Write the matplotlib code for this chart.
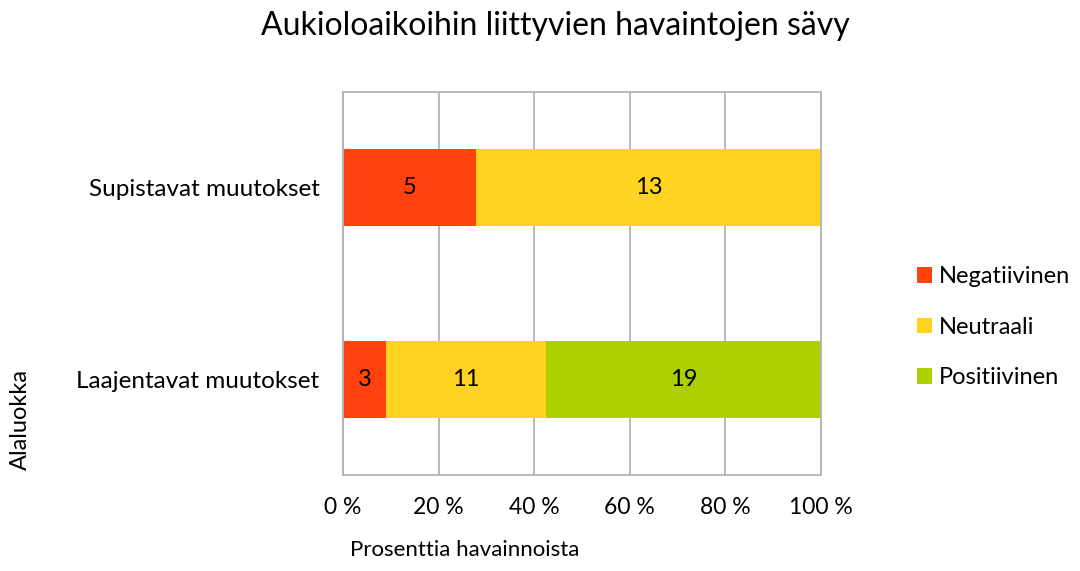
import matplotlib.pyplot as plt
import numpy as np

plt.rcParams['font.family'] = ['Lato', 'DejaVu Sans']

## Data
categories = ['Laajentavat muutokset', 'Supistavat muutokset']
series = ['Negatiivinen', 'Neutraali', 'Positiivinen']
negatiivinen = [3, 5]
neutraali = [11, 13]
positiivinen = [19, 0]
colors = ['#ff420e', '#ffd320', '#aecf00']
xticks = [0, 20, 40, 60, 80, 100]

counts = np.array([negatiivinen, neutraali, positiivinen], dtype=float)
totals = counts.sum(axis=0)
shares = counts / totals * 100

fig = plt.figure(figsize=(10.8, 5.71), dpi=100)
ax = fig.add_axes([0.3176, 0.1681, 0.4426, 0.6708])

y = np.arange(len(categories))
left = np.zeros(len(categories))
for i, name in enumerate(series):
    ax.barh(y, shares[i], left=left, height=0.4, color=colors[i], label=name, zorder=2)
    for j in range(len(categories)):
        if counts[i, j] > 0:
            ax.text(left[j] + shares[i, j] / 2, y[j], f'{int(counts[i, j])}',
                    ha='center', va='center', fontsize=17, color='black', zorder=3)
    left += shares[i]

ax.set_xlim(0, 100)
ax.set_ylim(-0.5, 1.5)
ax.set_xticks(xticks)
ax.set_xticklabels([f'{t} %' for t in xticks], fontsize=16.5)
ax.set_yticks(y)
ax.set_yticklabels(categories, fontsize=17.5)
ax.tick_params(axis='x', length=0, pad=16)
ax.tick_params(axis='y', length=0, pad=17)
ax.grid(axis='x', color='#b3b3b3', linewidth=1.3, zorder=0)
for s in ax.spines.values():
    s.set_color('#b3b3b3')
    s.set_linewidth(1.3)

fig.text(0.514, 0.955, 'Aukioloaikoihin liittyvien havaintojen sävy', ha='center', va='center', fontsize=23)
fig.text(0.324, 0.02, 'Prosenttia havainnoista', ha='left', va='bottom', fontsize=16)
fig.text(0.019, 0.266, 'Alaluokka', ha='center', va='center', rotation=90, fontsize=17)

handles, labels = ax.get_legend_handles_labels()
fig.legend(handles, labels, loc='center left', bbox_to_anchor=(0.829, 0.427), frameon=False,
           fontsize=17, handlelength=0.65, handleheight=0.65, handletextpad=0.3, labelspacing=1.25)

fig.savefig('out.png', dpi=100)
